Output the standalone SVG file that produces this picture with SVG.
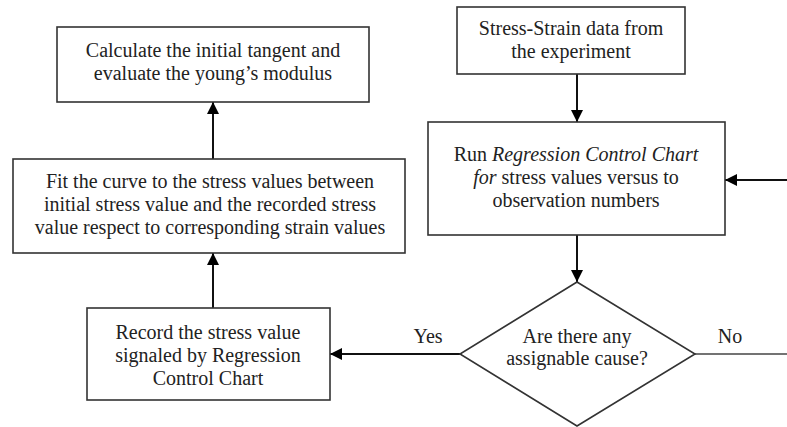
<svg xmlns="http://www.w3.org/2000/svg" width="787" height="427" viewBox="0 0 787 427">
<style>
.box{fill:#fff;stroke:#333;stroke-width:1.6}
.t{font-family:"Liberation Serif","Times New Roman",serif;font-size:20px;fill:#222;text-anchor:middle}
.c{stroke:#111;stroke-width:2;fill:none}
.l{stroke:#444;stroke-width:1.6;fill:none}
</style>
<defs>
<marker id="ah" viewBox="0 0 12 12" refX="12" refY="6" markerWidth="12" markerHeight="12" markerUnits="userSpaceOnUse" orient="auto">
<path d="M0,0 L12,6 L0,12 Z" fill="#000"/>
</marker>
</defs>
<rect width="787" height="427" fill="#fff"/>
<g id="connectors">
<line class="c" x1="577" y1="74" x2="577" y2="122" marker-end="url(#ah)"/>
<line class="c" x1="787" y1="180" x2="725" y2="180" marker-end="url(#ah)"/>
<line class="c" x1="577" y1="235" x2="577" y2="282" marker-end="url(#ah)"/>
<line class="c" x1="460" y1="354" x2="330" y2="354" marker-end="url(#ah)"/>
<line class="l" x1="695" y1="354" x2="787" y2="354"/>
<line class="c" x1="213" y1="308" x2="213" y2="253" marker-end="url(#ah)"/>
<line class="c" x1="213" y1="159" x2="213" y2="102" marker-end="url(#ah)"/>
<text class="t" x="428" y="343">Yes</text>
<text class="t" x="730" y="343">No</text>
</g>
<g id="calc">
<rect class="box" x="57" y="27" width="312" height="75"/>
<text class="t" x="213" y="57">Calculate the initial tangent and</text>
<text class="t" x="213" y="80">evaluate the young’s modulus</text>
</g>
<g id="fit">
<rect class="box" x="13" y="159" width="392" height="94"/>
<text class="t" x="210" y="188">Fit the curve to the stress values between</text>
<text class="t" x="210" y="211">initial stress value and the recorded stress</text>
<text class="t" x="210" y="234">value respect to corresponding strain values</text>
</g>
<g id="record">
<rect class="box" x="87" y="308" width="243" height="92"/>
<text class="t" x="208" y="339">Record the stress value</text>
<text class="t" x="208" y="362">signaled by Regression</text>
<text class="t" x="208" y="385">Control Chart</text>
</g>
<g id="data">
<rect class="box" x="457" y="7" width="228" height="67"/>
<text class="t" x="571" y="35">Stress-Strain data from</text>
<text class="t" x="571" y="58">the experiment</text>
</g>
<g id="run">
<rect class="box" x="428" y="122" width="297" height="113"/>
<text class="t" x="576" y="161">Run <tspan font-style="italic">Regression Control Chart</tspan></text>
<text class="t" x="576" y="184"><tspan font-style="italic">for</tspan> stress values versus to</text>
<text class="t" x="576" y="207">observation numbers</text>
</g>
<g id="decision">
<polygon class="box" points="577,282 695,354 577,426 460,354"/>
<text class="t" x="577" y="343">Are there any</text>
<text class="t" x="577" y="365">assignable cause?</text>
</g>
</svg>
